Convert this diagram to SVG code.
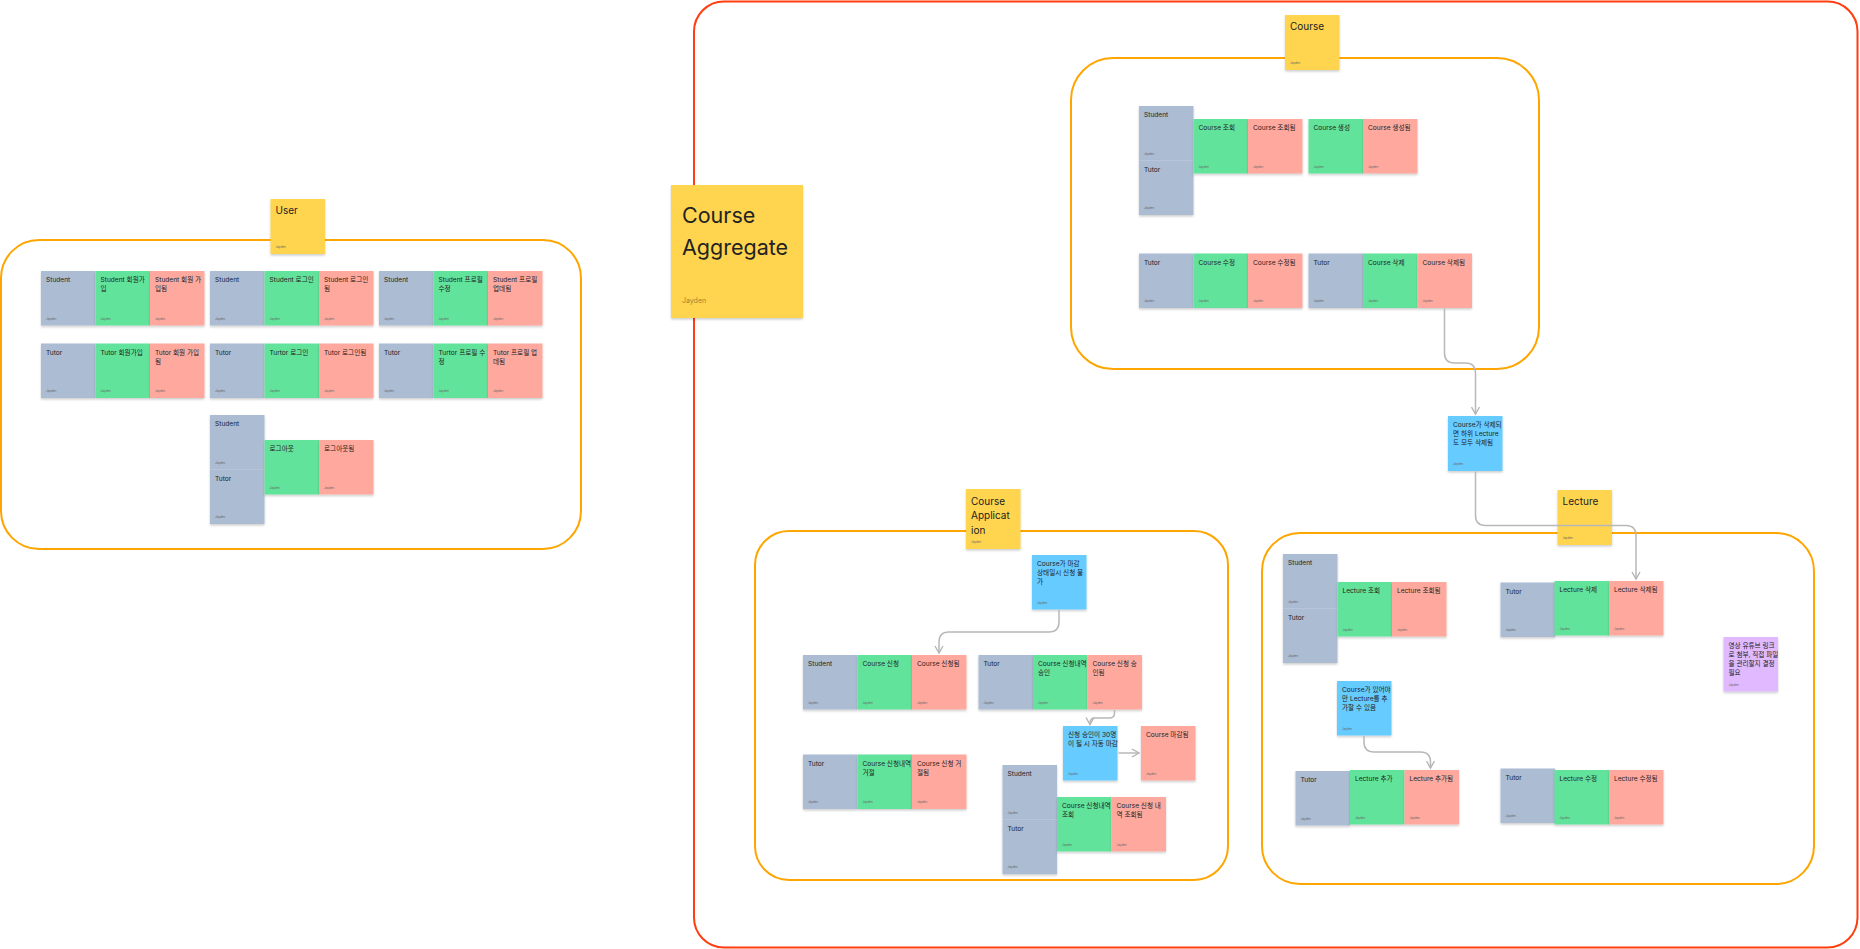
<svg xmlns="http://www.w3.org/2000/svg" width="1860" height="949" viewBox="0 0 1860 949">
<defs>
<filter id="sh" x="-10%" y="-10%" width="120%" height="130%"><feDropShadow dx="0" dy="1.5" stdDeviation="1.2" flood-color="#000" flood-opacity="0.2"/></filter>
<marker id="arr" viewBox="0 0 10 10" refX="8.5" refY="5" markerWidth="10" markerHeight="10" orient="auto" markerUnits="userSpaceOnUse"><path d="M1.5 1 L8.5 5 L1.5 9" fill="none" stroke="#b5b5b5" stroke-width="1.4"/></marker>
</defs>
<style>
.g{fill:#abbcd3}.gr{fill:#62e39b}.r{fill:#ffa99e}.y{fill:#ffd54f}.b{fill:#66cbff}.p{fill:#e0b9ff}
.n{filter:url(#sh)}
text{font-family:Inter,"Noto Sans CJK KR",sans-serif}
.t{font-size:6.6px;fill:#222}
.j{font-size:3px;fill:#666}
.lt{font-size:10px;fill:#222}
.box{fill:none;stroke:#ffa500;stroke-width:2}
.outer{fill:none;stroke:#ff3d0f;stroke-width:2}
.c{fill:none;stroke:#b8b8b8;stroke-width:1.5;marker-end:url(#arr)}
</style>
<rect width="1860" height="949" fill="#fff"/>

<!-- frames -->
<g id="frames">
<rect class="outer" x="694" y="1.5" width="1163.5" height="946" rx="30"/>
<rect class="box" x="1" y="240" width="580" height="309" rx="38"/>
<rect class="box" x="1071" y="58" width="468" height="311" rx="42"/>
<rect class="box" x="755" y="531" width="473" height="349" rx="34"/>
<rect class="box" x="1262" y="533" width="552" height="351" rx="38"/>
</g>

<!-- big note -->
<g id="course-aggregate" transform="translate(671,185)">
<rect class="y n" width="132" height="133"/>
<text x="11" y="38" font-size="21.5" fill="#222">Course</text>
<text x="11" y="70" font-size="21.5" fill="#222">Aggregate</text>
<text x="11" y="118" font-size="7" fill="#a08530">Jayden</text>
</g>

<!-- USER -->
<g id="user-label" transform="translate(270.5,199)"><rect class="y n" width="54.5" height="55"/><text class="lt" x="5" y="15">User</text><text class="j" x="5" y="49">Jayden</text></g>

<g id="u-r1-s1" transform="translate(41,271)"><rect class="g n" width="54.5" height="54.5"/><text class="t" x="5" y="11.3">Student</text><text class="j" x="5" y="48.5">Jayden</text></g>
<g id="u-r1-c1" transform="translate(95.5,271)"><rect class="gr n" width="54.5" height="54.5"/><text class="t" x="5" y="11.3">Student 회원가<tspan x="5" dy="9">입</tspan></text><text class="j" x="5" y="48.5">Jayden</text></g>
<g id="u-r1-e1" transform="translate(150,271)"><rect class="r n" width="54.5" height="54.5"/><text class="t" x="5" y="11.3">Student 회원 가<tspan x="5" dy="9">입됨</tspan></text><text class="j" x="5" y="48.5">Jayden</text></g>

<g id="u-r1-s2" transform="translate(210,271)"><rect class="g n" width="54.5" height="54.5"/><text class="t" x="5" y="11.3">Student</text><text class="j" x="5" y="48.5">Jayden</text></g>
<g id="u-r1-c2" transform="translate(264.5,271)"><rect class="gr n" width="54.5" height="54.5"/><text class="t" x="5" y="11.3">Student 로그인</text><text class="j" x="5" y="48.5">Jayden</text></g>
<g id="u-r1-e2" transform="translate(319,271)"><rect class="r n" width="54.5" height="54.5"/><text class="t" x="5" y="11.3">Student 로그인<tspan x="5" dy="9">됨</tspan></text><text class="j" x="5" y="48.5">Jayden</text></g>

<g id="u-r1-s3" transform="translate(379,271)"><rect class="g n" width="54.5" height="54.5"/><text class="t" x="5" y="11.3">Student</text><text class="j" x="5" y="48.5">Jayden</text></g>
<g id="u-r1-c3" transform="translate(433.5,271)"><rect class="gr n" width="54.5" height="54.5"/><text class="t" x="5" y="11.3">Student 프로필<tspan x="5" dy="9">수정</tspan></text><text class="j" x="5" y="48.5">Jayden</text></g>
<g id="u-r1-e3" transform="translate(488,271)"><rect class="r n" width="54.5" height="54.5"/><text class="t" x="5" y="11.3">Student 프로필<tspan x="5" dy="9">업데됨</tspan></text><text class="j" x="5" y="48.5">Jayden</text></g>

<g id="u-r2-a1" transform="translate(41,343.5)"><rect class="g n" width="54.5" height="54.5"/><text class="t" x="5" y="11.3">Tutor</text><text class="j" x="5" y="48.5">Jayden</text></g>
<g id="u-r2-c1" transform="translate(95.5,343.5)"><rect class="gr n" width="54.5" height="54.5"/><text class="t" x="5" y="11.3">Tutor 회원가입</text><text class="j" x="5" y="48.5">Jayden</text></g>
<g id="u-r2-e1" transform="translate(150,343.5)"><rect class="r n" width="54.5" height="54.5"/><text class="t" x="5" y="11.3">Tutor 회원 가입<tspan x="5" dy="9">됨</tspan></text><text class="j" x="5" y="48.5">Jayden</text></g>

<g id="u-r2-a2" transform="translate(210,343.5)"><rect class="g n" width="54.5" height="54.5"/><text class="t" x="5" y="11.3">Tutor</text><text class="j" x="5" y="48.5">Jayden</text></g>
<g id="u-r2-c2" transform="translate(264.5,343.5)"><rect class="gr n" width="54.5" height="54.5"/><text class="t" x="5" y="11.3">Turtor 로그인</text><text class="j" x="5" y="48.5">Jayden</text></g>
<g id="u-r2-e2" transform="translate(319,343.5)"><rect class="r n" width="54.5" height="54.5"/><text class="t" x="5" y="11.3">Tutor 로그인됨</text><text class="j" x="5" y="48.5">Jayden</text></g>

<g id="u-r2-a3" transform="translate(379,343.5)"><rect class="g n" width="54.5" height="54.5"/><text class="t" x="5" y="11.3">Tutor</text><text class="j" x="5" y="48.5">Jayden</text></g>
<g id="u-r2-c3" transform="translate(433.5,343.5)"><rect class="gr n" width="54.5" height="54.5"/><text class="t" x="5" y="11.3">Turtor 프로필 수<tspan x="5" dy="9">정</tspan></text><text class="j" x="5" y="48.5">Jayden</text></g>
<g id="u-r2-e3" transform="translate(488,343.5)"><rect class="r n" width="54.5" height="54.5"/><text class="t" x="5" y="11.3">Tutor 프로필 업<tspan x="5" dy="9">데됨</tspan></text><text class="j" x="5" y="48.5">Jayden</text></g>

<g id="u-r3-s" transform="translate(210,415)"><rect class="g n" width="54.5" height="54.5"/><text class="t" x="5" y="11.3">Student</text><text class="j" x="5" y="48.5">Jayden</text></g>
<g id="u-r3-a" transform="translate(210,469.5)"><rect class="g n" width="54.5" height="54.5"/><text class="t" x="5" y="11.3">Tutor</text><text class="j" x="5" y="48.5">Jayden</text></g>
<g id="u-r3-c" transform="translate(264.5,440)"><rect class="gr n" width="54.5" height="54.5"/><text class="t" x="5" y="11.3">로그아웃</text><text class="j" x="5" y="48.5">Jayden</text></g>
<g id="u-r3-e" transform="translate(319,440)"><rect class="r n" width="54.5" height="54.5"/><text class="t" x="5" y="11.3">로그아웃됨</text><text class="j" x="5" y="48.5">Jayden</text></g>

<!-- COURSE -->
<g id="course-label" transform="translate(1285,15)"><rect class="y n" width="54.5" height="55"/><text class="lt" x="5" y="15">Course</text><text class="j" x="5" y="49">Jayden</text></g>

<g id="c-s" transform="translate(1139,106)"><rect class="g n" width="54.5" height="54.5"/><text class="t" x="5" y="11.3">Student</text><text class="j" x="5" y="48.5">Jayden</text></g>
<g id="c-a" transform="translate(1139,160.5)"><rect class="g n" width="54.5" height="54.5"/><text class="t" x="5" y="11.3">Tutor</text><text class="j" x="5" y="48.5">Jayden</text></g>
<g id="c-read" transform="translate(1193.5,119)"><rect class="gr n" width="54.5" height="54.5"/><text class="t" x="5" y="11.3">Course 조회</text><text class="j" x="5" y="48.5">Jayden</text></g>
<g id="c-read-e" transform="translate(1248,119)"><rect class="r n" width="54.5" height="54.5"/><text class="t" x="5" y="11.3">Course 조회됨</text><text class="j" x="5" y="48.5">Jayden</text></g>
<g id="c-create" transform="translate(1308.5,119)"><rect class="gr n" width="54.5" height="54.5"/><text class="t" x="5" y="11.3">Course 생성</text><text class="j" x="5" y="48.5">Jayden</text></g>
<g id="c-create-e" transform="translate(1363,119)"><rect class="r n" width="54.5" height="54.5"/><text class="t" x="5" y="11.3">Course 생성됨</text><text class="j" x="5" y="48.5">Jayden</text></g>

<g id="c-a2" transform="translate(1139,253.5)"><rect class="g n" width="54.5" height="54.5"/><text class="t" x="5" y="11.3">Tutor</text><text class="j" x="5" y="48.5">Jayden</text></g>
<g id="c-upd" transform="translate(1193.5,253.5)"><rect class="gr n" width="54.5" height="54.5"/><text class="t" x="5" y="11.3">Course 수정</text><text class="j" x="5" y="48.5">Jayden</text></g>
<g id="c-upd-e" transform="translate(1248,253.5)"><rect class="r n" width="54.5" height="54.5"/><text class="t" x="5" y="11.3">Course 수정됨</text><text class="j" x="5" y="48.5">Jayden</text></g>
<g id="c-a3" transform="translate(1308.5,253.5)"><rect class="g n" width="54.5" height="54.5"/><text class="t" x="5" y="11.3">Tutor</text><text class="j" x="5" y="48.5">Jayden</text></g>
<g id="c-del" transform="translate(1363,253.5)"><rect class="gr n" width="54.5" height="54.5"/><text class="t" x="5" y="11.3">Course 삭제</text><text class="j" x="5" y="48.5">Jayden</text></g>
<g id="c-del-e" transform="translate(1417.5,253.5)"><rect class="r n" width="54.5" height="54.5"/><text class="t" x="5" y="11.3">Course 삭제됨</text><text class="j" x="5" y="48.5">Jayden</text></g>

<g id="c-policy" transform="translate(1448,416)"><rect class="b n" width="54.5" height="55"/><text class="t" x="5" y="11.3">Course가 삭제되<tspan x="5" dy="9">면 하위 Lecture</tspan><tspan x="5" dy="9">도 모두 삭제됨</tspan></text><text class="j" x="5" y="49">Jayden</text></g>

<!-- COURSE APPLICATION -->
<g id="app-label" transform="translate(966,489)"><rect class="y n" width="54.5" height="60"/><text class="lt" x="5" y="15.5">Course<tspan x="5" dy="14.5">Applicat</tspan><tspan x="5" dy="14.5">ion</tspan></text><text class="j" x="5" y="54">Jayden</text></g>

<g id="app-policy1" transform="translate(1032,555)"><rect class="b n" width="54.5" height="54.5"/><text class="t" x="5" y="11.3">Course가 마감<tspan x="5" dy="9">상태일시 신청 불</tspan><tspan x="5" dy="9">가</tspan></text><text class="j" x="5" y="48.5">Jayden</text></g>

<g id="app-s" transform="translate(803,655)"><rect class="g n" width="54.5" height="54.5"/><text class="t" x="5" y="11.3">Student</text><text class="j" x="5" y="48.5">Jayden</text></g>
<g id="app-apply" transform="translate(857.5,655)"><rect class="gr n" width="54.5" height="54.5"/><text class="t" x="5" y="11.3">Course 신청</text><text class="j" x="5" y="48.5">Jayden</text></g>
<g id="app-apply-e" transform="translate(912,655)"><rect class="r n" width="54.5" height="54.5"/><text class="t" x="5" y="11.3">Course 신청됨</text><text class="j" x="5" y="48.5">Jayden</text></g>

<g id="app-a1" transform="translate(978.5,655)"><rect class="g n" width="54.5" height="54.5"/><text class="t" x="5" y="11.3">Tutor</text><text class="j" x="5" y="48.5">Jayden</text></g>
<g id="app-approve" transform="translate(1033,655)"><rect class="gr n" width="54.5" height="54.5"/><text class="t" x="5" y="11.3">Course 신청내역<tspan x="5" dy="9">승인</tspan></text><text class="j" x="5" y="48.5">Jayden</text></g>
<g id="app-approve-e" transform="translate(1087.5,655)"><rect class="r n" width="54.5" height="54.5"/><text class="t" x="5" y="11.3">Course 신청 승<tspan x="5" dy="9">인됨</tspan></text><text class="j" x="5" y="48.5">Jayden</text></g>

<g id="app-policy2" transform="translate(1063,726)"><rect class="b n" width="54.5" height="54.5"/><text class="t" x="5" y="11.3">신청 승인이 30명<tspan x="5" dy="9">이 될 시 자동 마감</tspan></text><text class="j" x="5" y="48.5">Jayden</text></g>
<g id="app-closed" transform="translate(1141,726)"><rect class="r n" width="54.5" height="54.5"/><text class="t" x="5" y="11.3">Course 마감됨</text><text class="j" x="5" y="48.5">Jayden</text></g>

<g id="app-a2" transform="translate(803,754.5)"><rect class="g n" width="54.5" height="54.5"/><text class="t" x="5" y="11.3">Tutor</text><text class="j" x="5" y="48.5">Jayden</text></g>
<g id="app-reject" transform="translate(857.5,754.5)"><rect class="gr n" width="54.5" height="54.5"/><text class="t" x="5" y="11.3">Course 신청내역<tspan x="5" dy="9">거절</tspan></text><text class="j" x="5" y="48.5">Jayden</text></g>
<g id="app-reject-e" transform="translate(912,754.5)"><rect class="r n" width="54.5" height="54.5"/><text class="t" x="5" y="11.3">Course 신청 거<tspan x="5" dy="9">절됨</tspan></text><text class="j" x="5" y="48.5">Jayden</text></g>

<g id="app-s2" transform="translate(1002.5,765)"><rect class="g n" width="54.5" height="54.5"/><text class="t" x="5" y="11.3">Student</text><text class="j" x="5" y="48.5">Jayden</text></g>
<g id="app-a3" transform="translate(1002.5,819.5)"><rect class="g n" width="54.5" height="54.5"/><text class="t" x="5" y="11.3">Tutor</text><text class="j" x="5" y="48.5">Jayden</text></g>
<g id="app-list" transform="translate(1057,797)"><rect class="gr n" width="54.5" height="54.5"/><text class="t" x="5" y="11.3">Course 신청내역<tspan x="5" dy="9">조회</tspan></text><text class="j" x="5" y="48.5">Jayden</text></g>
<g id="app-list-e" transform="translate(1111.5,797)"><rect class="r n" width="54.5" height="54.5"/><text class="t" x="5" y="11.3">Course 신청 내<tspan x="5" dy="9">역 조회됨</tspan></text><text class="j" x="5" y="48.5">Jayden</text></g>

<!-- LECTURE -->
<g id="lecture-label" transform="translate(1557.5,490)"><rect class="y n" width="54.5" height="55"/><text class="lt" x="5" y="15">Lecture</text><text class="j" x="5" y="49">Jayden</text></g>

<g id="l-s" transform="translate(1283,554)"><rect class="g n" width="54.5" height="54.5"/><text class="t" x="5" y="11.3">Student</text><text class="j" x="5" y="48.5">Jayden</text></g>
<g id="l-a" transform="translate(1283,608.5)"><rect class="g n" width="54.5" height="54.5"/><text class="t" x="5" y="11.3">Tutor</text><text class="j" x="5" y="48.5">Jayden</text></g>
<g id="l-read" transform="translate(1337.5,582)"><rect class="gr n" width="54.5" height="54.5"/><text class="t" x="5" y="11.3">Lecture 조회</text><text class="j" x="5" y="48.5">Jayden</text></g>
<g id="l-read-e" transform="translate(1392,582)"><rect class="r n" width="54.5" height="54.5"/><text class="t" x="5" y="11.3">Lecture 조회됨</text><text class="j" x="5" y="48.5">Jayden</text></g>

<g id="l-a2" transform="translate(1500.5,582.5)"><rect class="g n" width="54.5" height="54.5"/><text class="t" x="5" y="11.3">Tutor</text><text class="j" x="5" y="48.5">Jayden</text></g>
<g id="l-del" transform="translate(1554.5,581)"><rect class="gr n" width="54.5" height="54.5"/><text class="t" x="5" y="11.3">Lecture 삭제</text><text class="j" x="5" y="48.5">Jayden</text></g>
<g id="l-del-e" transform="translate(1609,581)"><rect class="r n" width="54.5" height="54.5"/><text class="t" x="5" y="11.3">Lecture 삭제됨</text><text class="j" x="5" y="48.5">Jayden</text></g>

<g id="l-note" transform="translate(1723.5,637)"><rect class="p n" width="54.5" height="54.5"/><text class="t" x="5" y="11.3">영상 유튜브 링크<tspan x="5" dy="9">로 첨부, 직접 파일</tspan><tspan x="5" dy="9">을 관리할지 결정</tspan><tspan x="5" dy="9">필요</tspan></text><text class="j" x="5" y="48.5">Jayden</text></g>

<g id="l-policy" transform="translate(1337,681)"><rect class="b n" width="54.5" height="54.5"/><text class="t" x="5" y="11.3">Course가 있어야<tspan x="5" dy="9">만 Lecture를 추</tspan><tspan x="5" dy="9">가할 수 있음</tspan></text><text class="j" x="5" y="48.5">Jayden</text></g>

<g id="l-a3" transform="translate(1295.5,771)"><rect class="g n" width="54.5" height="54.5"/><text class="t" x="5" y="11.3">Tutor</text><text class="j" x="5" y="48.5">Jayden</text></g>
<g id="l-add" transform="translate(1350,770)"><rect class="gr n" width="54.5" height="54.5"/><text class="t" x="5" y="11.3">Lecture 추가</text><text class="j" x="5" y="48.5">Jayden</text></g>
<g id="l-add-e" transform="translate(1404.5,770)"><rect class="r n" width="54.5" height="54.5"/><text class="t" x="5" y="11.3">Lecture 추가됨</text><text class="j" x="5" y="48.5">Jayden</text></g>

<g id="l-a4" transform="translate(1500.5,768.5)"><rect class="g n" width="54.5" height="54.5"/><text class="t" x="5" y="11.3">Tutor</text><text class="j" x="5" y="48.5">Jayden</text></g>
<g id="l-upd" transform="translate(1554.5,770)"><rect class="gr n" width="54.5" height="54.5"/><text class="t" x="5" y="11.3">Lecture 수정</text><text class="j" x="5" y="48.5">Jayden</text></g>
<g id="l-upd-e" transform="translate(1609,770)"><rect class="r n" width="54.5" height="54.5"/><text class="t" x="5" y="11.3">Lecture 수정됨</text><text class="j" x="5" y="48.5">Jayden</text></g>

<!-- connectors -->
<g id="connectors">
<path class="c" d="M1444.5 308.5 V353 Q1444.5 363 1454.5 363 H1465.5 Q1475.5 363 1475.5 373 V414"/>
<path class="c" d="M1475.5 471.5 V515.5 Q1475.5 525.5 1485.5 525.5 H1626 Q1636 525.5 1636 535.5 V579"/>
<path class="c" d="M1059 610 V622 Q1059 632 1049 632 H949 Q939 632 939 642 V653"/>
<path class="c" d="M1114.5 710 V713 Q1114.5 718 1109.5 718 H1095 Q1090 718 1090 723 V724.5"/>
<path class="c" d="M1118.5 753 H1139"/>
<path class="c" d="M1364 736 V742 Q1364 752 1374 752 H1420.5 Q1430.5 752 1430.5 762 V768"/>
</g>
</svg>
